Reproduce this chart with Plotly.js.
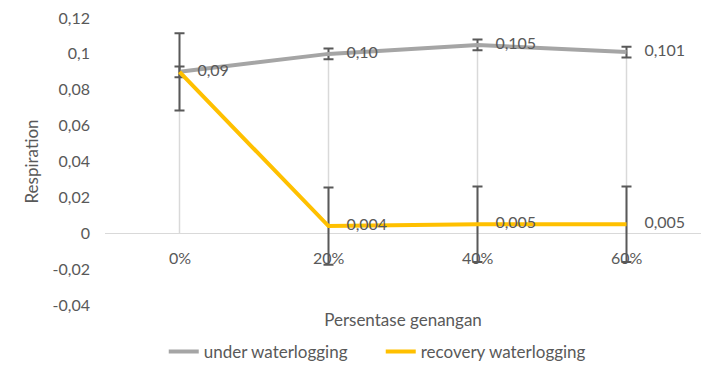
<!DOCTYPE html>
<html>
<head>
<meta charset="utf-8">
<script src="https://cdn.plot.ly/plotly-3.0.1.min.js"></script>
<style>html,body{margin:0;padding:0;background:#fff;}#chart{width:728px;height:376px;}</style>
</head>
<body>
<div id="chart"></div>
<script>
// ---- data ----
var categories = ['0%', '20%', '40%', '60%'];
var underValues = [0.09, 0.10, 0.105, 0.101];
var underErrors = [0.003, 0.003, 0.003, 0.003];
var underLabels = ['0,09', '0,10', '0,105', '0,101'];
var recoveryValues = [0.09, 0.004, 0.005, 0.005];
var recoveryErrors = [0.0215, 0.0215, 0.021, 0.021];
var recoveryLabels = ['', '0,004', '0,005', '0,005'];
var yTickVals = [-0.04, -0.02, 0, 0.02, 0.04, 0.06, 0.08, 0.1, 0.12];
var yTickText = ['-0,04', '-0,02', '0', '0,02', '0,04', '0,06', '0,08', '0,1', '0,12'];

var FONT = 'Lato, "Open Sans", sans-serif';
var TXT = '#595959';
var NONE = 'rgba(0,0,0,0)';

// drop lines from the highest point of each category down to the axis
var dropX = [], dropY = [];
categories.forEach(function (c, i) {
  dropX.push(c, c, null);
  dropY.push(Math.max(underValues[i], recoveryValues[i]), 0, null);
});

var traces = [
  {
    x: dropX, y: dropY, mode: 'lines', showlegend: false, hoverinfo: 'skip',
    line: {color: '#D9D9D9', width: 1.5}
  },
  {
    name: 'under waterlogging', x: categories, y: underValues,
    mode: 'lines+markers+text', text: underLabels, textposition: 'middle right',
    textfont: {family: FONT, size: 16, color: TXT},
    line: {color: '#A5A5A5', width: 4},
    marker: {size: 27, color: NONE},
    error_y: {type: 'data', array: underErrors, visible: true, color: '#595959', thickness: 2, width: 5}
  },
  {
    name: 'recovery waterlogging', x: categories, y: recoveryValues,
    mode: 'lines+markers+text', text: recoveryLabels, textposition: 'middle right',
    textfont: {family: FONT, size: 16, color: TXT},
    line: {color: '#FFC000', width: 4},
    marker: {size: 27, color: NONE},
    error_y: {type: 'data', array: recoveryErrors, visible: true, color: '#595959', thickness: 2, width: 5}
  }
];

var annotations = categories.map(function (c) {
  return {x: c, y: 0, xref: 'x', yref: 'y', text: c, showarrow: false,
    yanchor: 'middle', yshift: -24, font: {family: FONT, size: 16, color: TXT}};
});

var layout = {
  width: 728, height: 376,
  margin: {l: 105, r: 27, t: 18, b: 71},
  paper_bgcolor: '#fff', plot_bgcolor: '#fff',
  font: {family: FONT, size: 16, color: TXT},
  showlegend: true,
  legend: {
    orientation: 'h', xref: 'container', yref: 'container',
    x: 0.523, xanchor: 'center', y: 0.064, yanchor: 'middle',
    entrywidth: 172,
    font: {family: FONT, size: 17, color: TXT}
  },
  xaxis: {
    type: 'category', range: [-0.5, 3.5], showgrid: false, zeroline: false,
    showline: false, ticks: '', showticklabels: false, fixedrange: true,
    title: {text: 'Persentase genangan', standoff: 9, font: {family: FONT, size: 17, color: TXT}}
  },
  yaxis: {
    range: [-0.04, 0.12], tickvals: yTickVals, ticktext: yTickText,
    showgrid: false, zeroline: true, zerolinecolor: '#D9D9D9', zerolinewidth: 1.5,
    showline: false, ticks: '', ticklabelstandoff: 14, fixedrange: true,
    tickfont: {family: FONT, size: 16, color: TXT},
    title: {text: 'Respiration', standoff: 9, font: {family: FONT, size: 17, color: TXT}}
  },
  annotations: annotations
};

Plotly.newPlot('chart', traces, layout, {displayModeBar: false, staticPlot: true});
</script>
</body>
</html>
